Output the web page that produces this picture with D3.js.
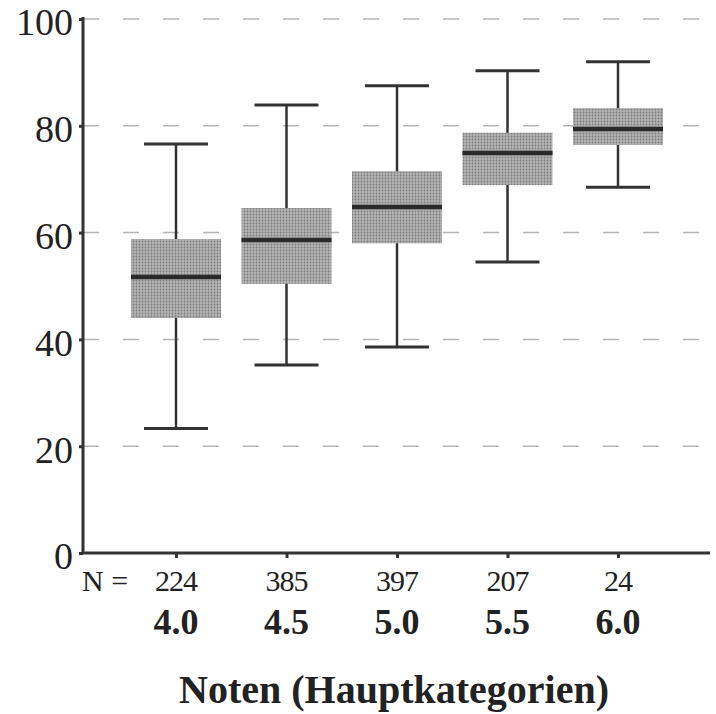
<!DOCTYPE html>
<html>
<head>
<meta charset="utf-8">
<script src="https://cdn.jsdelivr.net/npm/d3@7"></script>
<style>
  body { margin: 0; background: #fff; }
  text { font-family: "Liberation Serif", "Times New Roman", serif; fill: #222; }
</style>
</head>
<body>
<div id="chart"></div>
<script>
// categories and box statistics
const noten = ["4.0", "4.5", "5.0", "5.5", "6.0"];
const counts = [224, 385, 397, 207, 24];
const whiskerLow = [23.3, 35.2, 38.6, 54.5, 68.5];
const q1 = [44.0, 50.4, 58.0, 68.9, 76.4];
const median = [51.7, 58.6, 64.8, 74.9, 79.4];
const q3 = [58.8, 64.6, 71.5, 78.7, 83.3];
const whiskerHigh = [76.6, 83.9, 87.5, 90.3, 92.0];
const yTicks = [0, 20, 40, 60, 80, 100];

const W = 716, H = 714;
const plotLeft = 83, plotRight = 710, plotTop = 19, plotBottom = 553;
const boxW = 90, capW = 64;

const svg = d3.select("#chart").append("svg")
  .attr("width", W).attr("height", H);

// dotted grey fill like the printed raster
const defs = svg.append("defs");
const pat = defs.append("pattern")
  .attr("id", "dots").attr("width", 3).attr("height", 3)
  .attr("patternUnits", "userSpaceOnUse");
pat.append("rect").attr("width", 3).attr("height", 3).attr("fill", "#b3b3b3");
pat.append("circle").attr("cx", 1.5).attr("cy", 1.5).attr("r", 0.9).attr("fill", "#7c7c7c");

const y = d3.scaleLinear().domain([0, 100]).range([plotBottom, plotTop]);
const x = d3.scalePoint().domain(noten).range([176, 618]);

// dashed grid lines
svg.append("g").selectAll("line")
  .data(yTicks.filter(d => d > 0))
  .enter().append("line")
  .attr("x1", plotLeft).attr("x2", plotRight)
  .attr("y1", d => y(d)).attr("y2", d => y(d))
  .attr("stroke", "#b5b5b5").attr("stroke-width", 1.5)
  .attr("stroke-dasharray", "16,24");

// y axis
const yAxis = svg.append("g")
  .attr("transform", `translate(${plotLeft},0)`)
  .call(d3.axisLeft(y).tickValues(yTicks).tickSize(4).tickPadding(6));
yAxis.select(".domain").attr("stroke", "#333").attr("stroke-width", 3)
  .attr("d", `M0,${plotTop - 2}V${plotBottom}`);
yAxis.selectAll(".tick line").attr("stroke", "#333").attr("stroke-width", 3);
yAxis.selectAll(".tick text")
  .style("font-family", "Liberation Serif").style("font-size", "38px")
  .attr("fill", "#222").attr("dy", "0.42em");

// x axis
const xAxis = svg.append("g")
  .attr("transform", `translate(0,${plotBottom})`)
  .call(d3.axisBottom(x).tickSize(5).tickFormat(""));
xAxis.select(".domain").attr("stroke", "#333").attr("stroke-width", 3)
  .attr("d", `M${plotLeft - 1.5},0H${plotRight}`);
xAxis.selectAll(".tick line").attr("stroke", "#333").attr("stroke-width", 3);

// boxes
const data = noten.map((k, i) => ({
  k, n: counts[i], lo: whiskerLow[i], q1: q1[i], med: median[i], q3: q3[i], hi: whiskerHigh[i]
}));

const g = svg.append("g").selectAll("g").data(data).enter().append("g");

g.append("line")
  .attr("x1", d => x(d.k)).attr("x2", d => x(d.k))
  .attr("y1", d => y(d.lo)).attr("y2", d => y(d.hi))
  .attr("stroke", "#333").attr("stroke-width", 2.5);
g.append("line")
  .attr("x1", d => x(d.k) - capW / 2).attr("x2", d => x(d.k) + capW / 2)
  .attr("y1", d => y(d.hi)).attr("y2", d => y(d.hi))
  .attr("stroke", "#333").attr("stroke-width", 3);
g.append("line")
  .attr("x1", d => x(d.k) - capW / 2).attr("x2", d => x(d.k) + capW / 2)
  .attr("y1", d => y(d.lo)).attr("y2", d => y(d.lo))
  .attr("stroke", "#333").attr("stroke-width", 3);
g.append("rect")
  .attr("x", d => x(d.k) - boxW / 2).attr("width", boxW)
  .attr("y", d => y(d.q3)).attr("height", d => y(d.q1) - y(d.q3))
  .attr("fill", "url(#dots)");
g.append("line")
  .attr("x1", d => x(d.k) - boxW / 2).attr("x2", d => x(d.k) + boxW / 2)
  .attr("y1", d => y(d.med)).attr("y2", d => y(d.med))
  .attr("stroke", "#2a2a2a").attr("stroke-width", 4.5);

// N row
svg.append("text").attr("x", 82).attr("y", 591)
  .style("font-size", "30px")
  .text("N =");
g.append("text")
  .attr("x", d => x(d.k)).attr("y", 591)
  .attr("text-anchor", "middle")
  .style("font-size", "30px").attr("letter-spacing", "-1")
  .text(d => d.n);

// category labels
g.append("text")
  .attr("x", d => x(d.k)).attr("y", 634)
  .attr("text-anchor", "middle")
  .style("font-size", "36px").style("font-weight", "bold")
  .text(d => d.k);

// axis title
svg.append("text")
  .attr("x", 394).attr("y", 703)
  .attr("text-anchor", "middle")
  .style("font-size", "40px").style("font-weight", "bold")
  .text("Noten (Hauptkategorien)");
</script>
</body>
</html>
